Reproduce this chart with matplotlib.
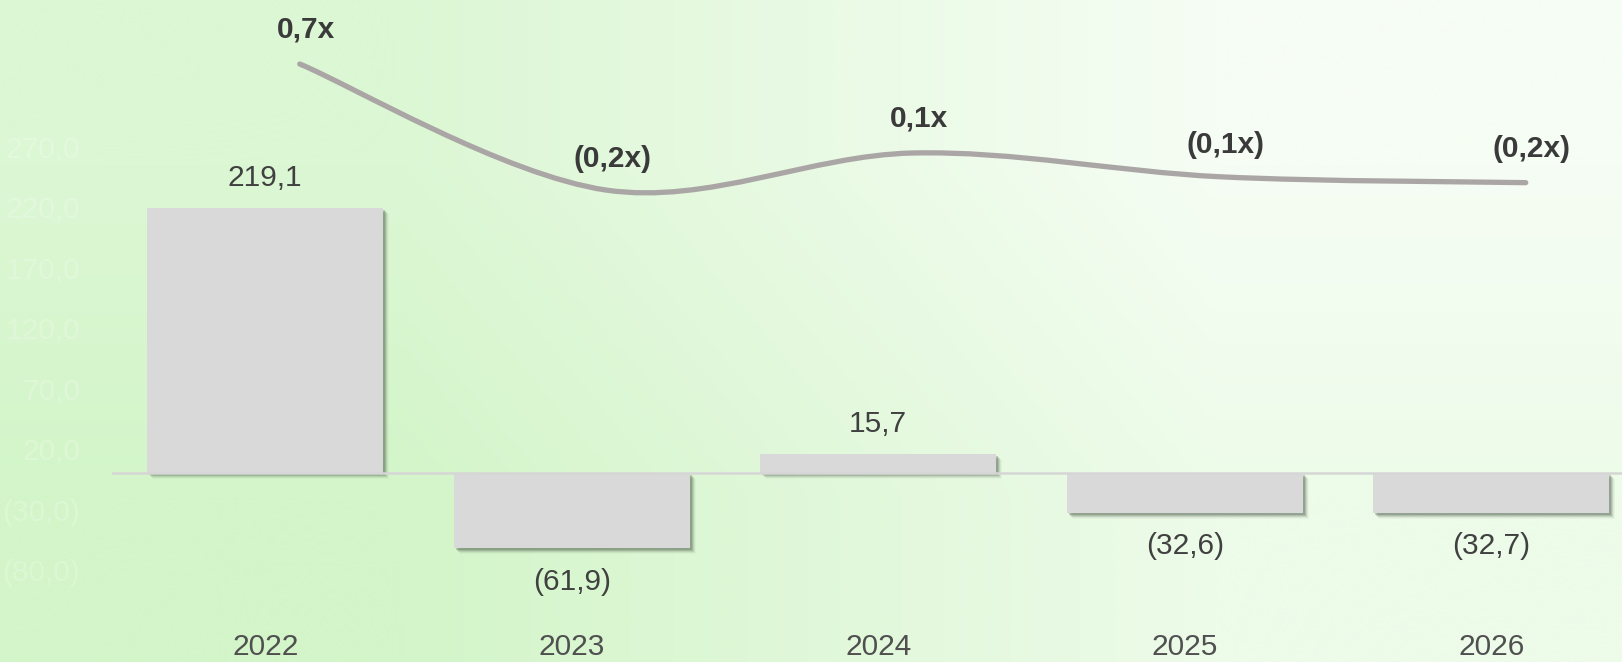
import numpy as np
import matplotlib
matplotlib.use('Agg')
import matplotlib.pyplot as plt
from matplotlib.path import Path
from matplotlib.patches import PathPatch
from matplotlib import transforms

plt.rcParams['font.family'] = ['Liberation Sans', 'DejaVu Sans']

# data
years = ['2022', '2023', '2024', '2025', '2026']
values = [219.1, -61.9, 15.7, -32.6, -32.7]
value_labels = ['219,1', '(61,9)', '15,7', '(32,6)', '(32,7)']
multiples = [0.7, -0.15, 0.1, -0.06, -0.1]
multiple_labels = ['0,7x', '(0,2x)', '0,1x', '(0,1x)', '(0,2x)']
yticks = [270, 220, 170, 120, 70, 20, -30, -80]
ytick_labels = ['270,0', '220,0', '170,0', '120,0', '70,0', '20,0', '(30,0)', '(80,0)']

W, H, DPI = 1622, 662, 100
fig = plt.figure(figsize=(W / DPI, H / DPI), dpi=DPI)

# background gradient
bg = fig.add_axes([0, 0, 1, 1])
corners = np.array([[[220, 247, 212], [246, 253, 244]],
                    [[211, 245, 201], [237, 251, 233]]]) / 255.0
bg.imshow(corners, extent=[0, 1, 0, 1], interpolation='bilinear', aspect='auto')
bg.set_axis_off()

x = np.arange(len(years))
left_px, width_px = 112, 306.5 * 5
ax = fig.add_axes([left_px / W, 0, width_px / W, 1])
ax.patch.set_alpha(0)
ax.set_xlim(-0.5, len(years) - 0.5)
ax.set_ylim(-156, 391.3)

# bar shadows
for k, a in zip([2, 3, 4, 5, 6], [0.26, 0.2, 0.14, 0.08, 0.04]):
    tr = transforms.offset_copy(ax.transData, fig, x=k, y=-k, units='dots')
    ax.bar(x, values, width=0.77, color='#4f5e4c', alpha=a, transform=tr, zorder=1)
ax.bar(x, values, width=0.77, color='#d9d9d9', zorder=2)
ax.axhline(0, color='#d6d6d6', lw=1.8, zorder=3)

for i, (v, lab) in enumerate(zip(values, value_labels)):
    off = 22 if v >= 0 else -24
    ax.annotate(lab, (x[i], v), xytext=(0, off), textcoords='offset points',
                ha='center', va='center', fontsize=21.5, color='#404040')

for i, yr in enumerate(years):
    ax.text(x[i], -144, yr, ha='center', va='center', fontsize=21.5, color='#505050')

ax.set_yticks(yticks)
ax.set_yticklabels(ytick_labels)
ax.tick_params(axis='y', length=0, labelsize=21.5, labelcolor=(1, 1, 1, 0.22), pad=23)
ax.set_xticks([])
for s in ax.spines.values():
    s.set_visible(False)

# multiple line on secondary axis, smoothed with bezier segments
ax2 = ax.twinx()
ax2.set_ylim(-3.332, 1.1316)
ax2.set_axis_off()
lx = x + 0.1126
pts = np.column_stack([lx, multiples])
verts = [pts[0]]
codes = [Path.MOVETO]
for i in range(len(pts) - 1):
    p0 = pts[i - 1] if i > 0 else pts[i]
    p1, p2 = pts[i], pts[i + 1]
    p3 = pts[i + 2] if i + 2 < len(pts) else pts[i + 1]
    verts += [p1 + (p2 - p0) / 6, p2 - (p3 - p1) / 6, p2]
    codes += [Path.CURVE4] * 3
ax2.add_patch(PathPatch(Path(verts, codes), fill=False, edgecolor='#aba6a6',
                        lw=3.8, capstyle='round', zorder=4))

label_y = [29, 159, 118, 145, 149]
for i, lab in enumerate(multiple_labels):
    ax2.text(lx[i] + 0.02, 1.1316 - label_y[i] / 148.3, lab, ha='center', va='center',
             fontsize=21.5, fontweight='bold', color='#3a3a3a')

fig.savefig('out.png', dpi=DPI)
